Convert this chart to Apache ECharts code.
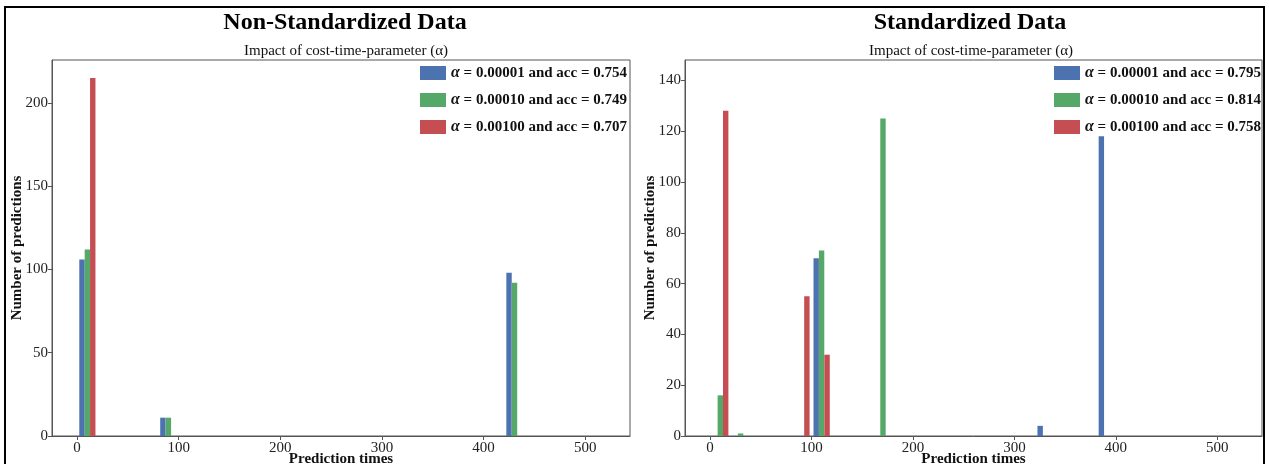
<!DOCTYPE html>
<html lang="en">
<head>
    <meta charset="UTF-8">
    <title>prediction-times</title>
    <script src="https://cdn.jsdelivr.net/npm/echarts@6/dist/echarts.min.js"></script>
</head>
<body style="margin:0">
<div id="main" style="width: 1269px;height:464px;"></div>
<script>
    // 左图: Non-Standardized Data
    var leftNames = ['α = 0.00001 and acc = 0.754', 'α = 0.00010 and acc = 0.749', 'α = 0.00100 and acc = 0.707'];
    var leftBlueX = [4.9, 84.5, 425];
    var leftBlueY = [106, 11, 98];
    var leftGreenX = [10.2, 89.9, 430.4];
    var leftGreenY = [112, 11, 92];
    var leftRedX = [15.5];
    var leftRedY = [215];

    // 右图: Standardized Data
    var rightNames = ['α = 0.00001 and acc = 0.795', 'α = 0.00010 and acc = 0.814', 'α = 0.00100 and acc = 0.758'];
    var rightBlueX = [104.7, 325.4, 385.7];
    var rightBlueY = [70, 4, 118];
    var rightGreenX = [10.2, 30.2, 110, 170.5];
    var rightGreenY = [16, 1, 73, 125];
    var rightRedX = [15.5, 95.5, 115.4];
    var rightRedY = [128, 55, 32];

    var xTicks = [0, 100, 200, 300, 400, 500];
    var leftYTicks = [0, 50, 100, 150, 200];
    var rightYTicks = [0, 20, 40, 60, 80, 100, 120, 140];

    var colors = ['#4c72b0', '#55a868', '#c44e52'];
    var serif = 'Liberation Serif';

    function pairs(xs, ys) {
        var out = [];
        for (var i = 0; i < xs.length; i++) {
            out.push([xs[i], ys[i]]);
        }
        return out;
    }

    function xAxisOf(idx) {
        return {
            type: 'value', gridIndex: idx, min: -24.6, max: 544,
            name: 'Prediction times', nameLocation: 'middle', nameGap: 16, nameMoveOverlap: false,
            nameTextStyle: {fontFamily: serif, fontWeight: 'bold', fontSize: 15, color: '#111'},
            axisLine: {onZero: false, lineStyle: {color: '#555'}},
            axisTick: {show: true, length: 4, customValues: xTicks, lineStyle: {color: '#555'}},
            axisLabel: {customValues: xTicks, margin: 5, fontFamily: serif, fontSize: 15, color: '#222'},
            splitLine: {show: false}
        };
    }

    function yAxisOf(idx, max, ticks) {
        return {
            type: 'value', gridIndex: idx, min: 0, max: max,
            name: 'Number of predictions', nameLocation: 'middle', nameGap: 27, nameMoveOverlap: false,
            nameTextStyle: {fontFamily: serif, fontWeight: 'bold', fontSize: 15, color: '#111'},
            axisLine: {show: true, onZero: false, lineStyle: {color: '#555'}},
            axisTick: {show: true, length: 4, customValues: ticks, lineStyle: {color: '#555'}},
            axisLabel: {customValues: ticks, margin: 4, fontFamily: serif, fontSize: 15, color: '#222'},
            splitLine: {show: false}
        };
    }

    function barSeries(name, idx, data, color) {
        return {
            name: name, type: 'bar', xAxisIndex: idx, yAxisIndex: idx,
            barWidth: 5.4, barGap: '-100%',
            itemStyle: {color: color},
            data: data
        };
    }

    function legendOf(left, names) {
        return {
            orient: 'vertical', left: left, top: 60,
            data: names, icon: 'rect', itemWidth: 26, itemHeight: 14, itemGap: 11,
            formatter: function (n) { return '{a|α}' + n.slice(1); },
            textStyle: {
                fontFamily: serif, fontWeight: 'bold', fontSize: 15, color: '#111',
                rich: {a: {fontFamily: serif, fontStyle: 'italic', fontSize: 16, color: '#111'}}
            }
        };
    }

    var chart = echarts.init(document.getElementById('main'));
    var option = {
        animation: false,
        title: [
            {text: 'Non-Standardized Data', left: 340, top: 6, textAlign: 'center',
                textStyle: {fontFamily: serif, fontWeight: 'bold', fontSize: 24, color: '#000'}},
            {text: 'Impact of cost-time-parameter (α)', left: 341, top: 39, textAlign: 'center',
                textStyle: {fontFamily: serif, fontWeight: 'normal', fontSize: 15, color: '#111'}},
            {text: 'Standardized Data', left: 965, top: 6, textAlign: 'center',
                textStyle: {fontFamily: serif, fontWeight: 'bold', fontSize: 24, color: '#000'}},
            {text: 'Impact of cost-time-parameter (α)', left: 966, top: 39, textAlign: 'center',
                textStyle: {fontFamily: serif, fontWeight: 'normal', fontSize: 15, color: '#111'}}
        ],
        legend: [legendOf(415, leftNames), legendOf(1049, rightNames)],
        grid: [
            {left: 52, top: 60, width: 578, height: 376, show: true, borderColor: '#555', borderWidth: 1,
                outerBoundsMode: 'none'},
            {left: 685, top: 60, width: 577, height: 376, show: true, borderColor: '#555', borderWidth: 1,
                outerBoundsMode: 'none'}
        ],
        xAxis: [xAxisOf(0), xAxisOf(1)],
        yAxis: [yAxisOf(0, 225.75, leftYTicks), yAxisOf(1, 148, rightYTicks)],
        graphic: [{
            type: 'rect', shape: {x: 5, y: 7, width: 1259, height: 470},
            style: {fill: 'none', stroke: '#000', lineWidth: 2}, silent: true
        }],
        series: [
            barSeries(leftNames[0], 0, pairs(leftBlueX, leftBlueY), colors[0]),
            barSeries(leftNames[1], 0, pairs(leftGreenX, leftGreenY), colors[1]),
            barSeries(leftNames[2], 0, pairs(leftRedX, leftRedY), colors[2]),
            barSeries(rightNames[0], 1, pairs(rightBlueX, rightBlueY), colors[0]),
            barSeries(rightNames[1], 1, pairs(rightGreenX, rightGreenY), colors[1]),
            barSeries(rightNames[2], 1, pairs(rightRedX, rightRedY), colors[2])
        ]
    };
    chart.setOption(option);
</script>
</body>
</html>
